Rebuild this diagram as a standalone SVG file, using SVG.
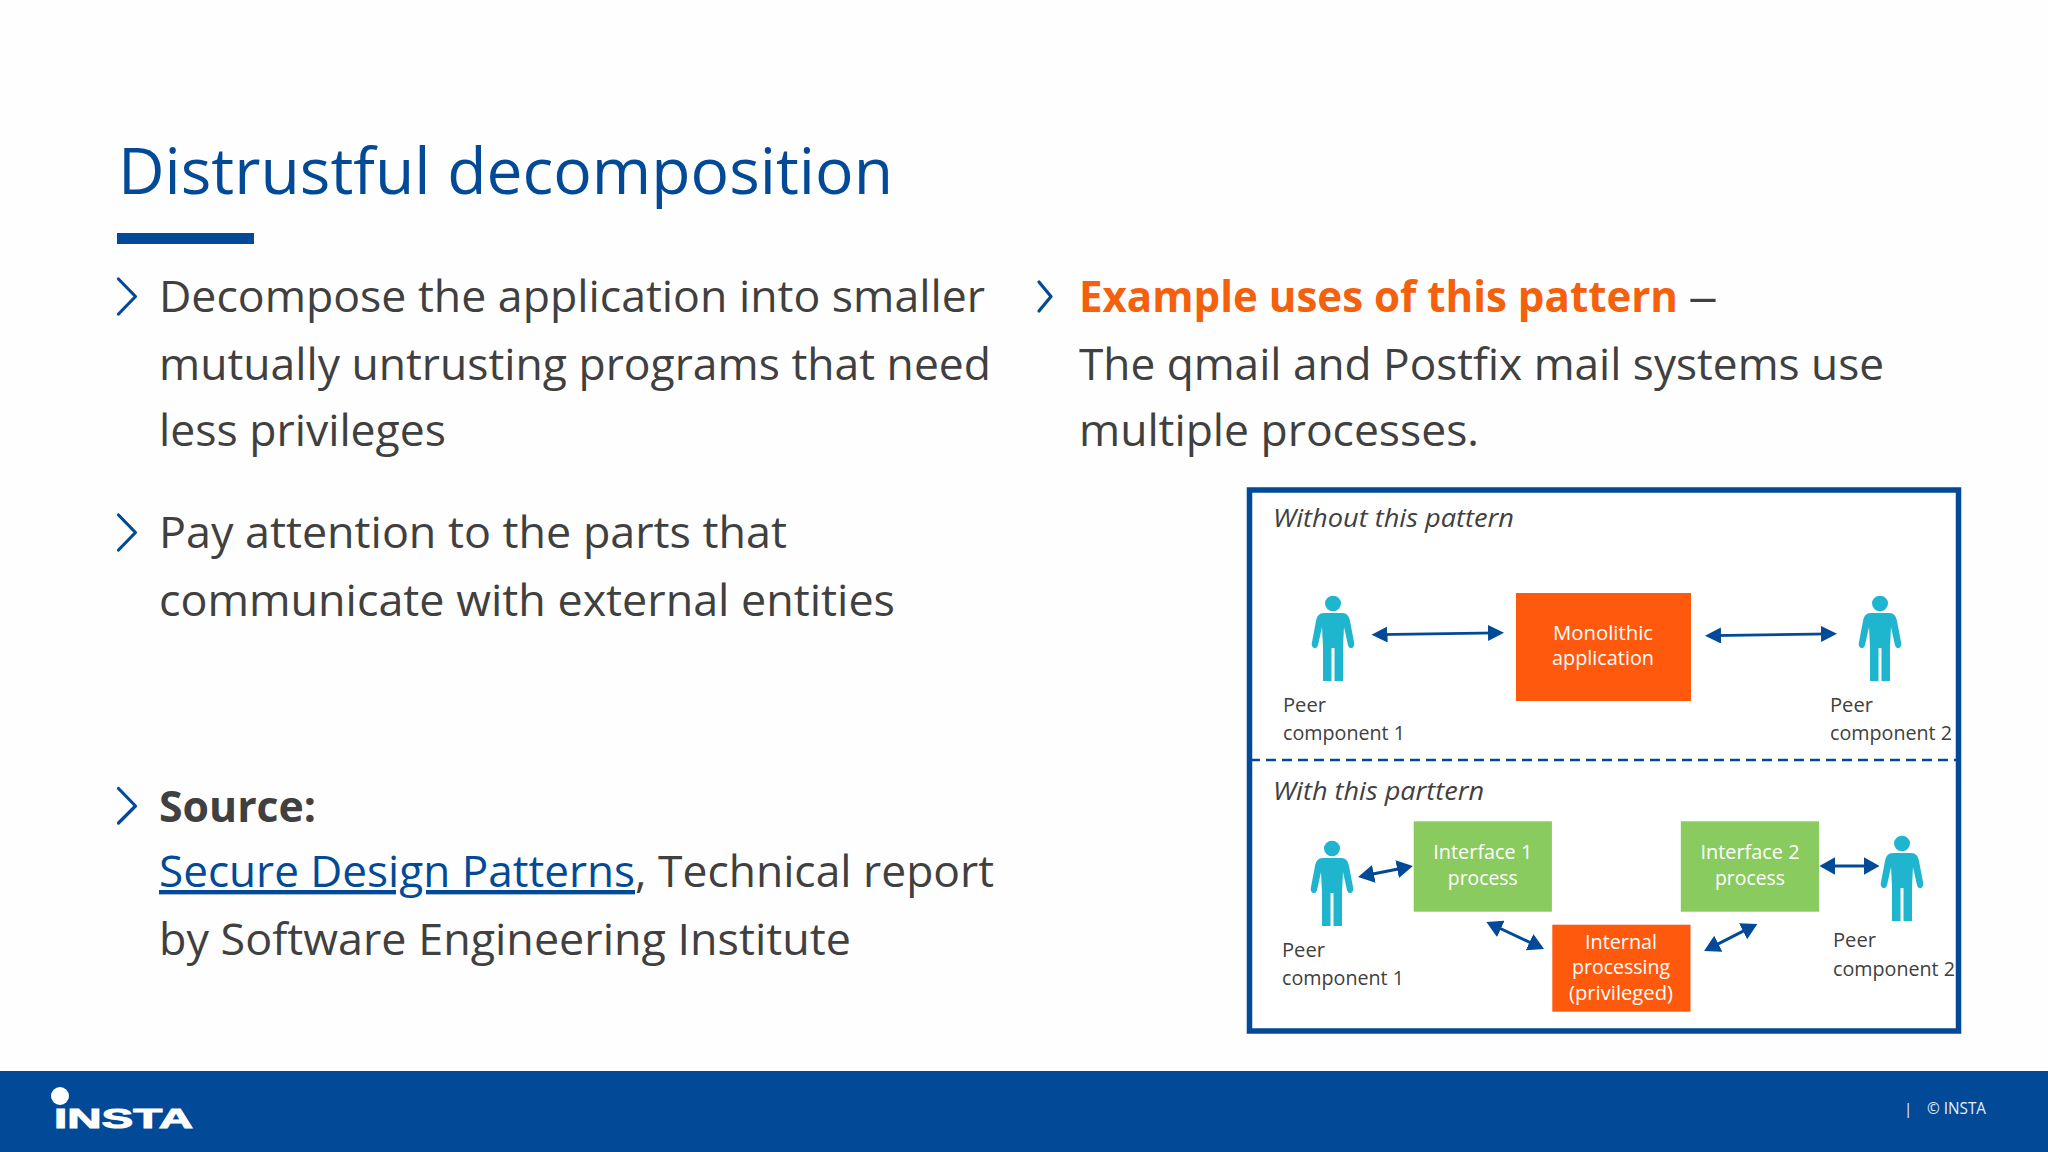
<svg xmlns="http://www.w3.org/2000/svg" width="2048" height="1152" viewBox="0 0 2048 1152">
<style>
text{font-family:"Open Sans","Noto Sans",sans-serif}
.t{font-size:63.5px;fill:#024a97}
.b{font-size:43.5px;fill:#404040}
.bold{font-weight:700}
.o{fill:#f4600c}
.lk{fill:#024a97;text-decoration:underline}
.h{font-size:25px;font-style:italic;fill:#404040}
.p{font-size:20px;fill:#404040}
.w{font-size:20.5px;fill:#fff;text-anchor:middle}
.ch{fill:none;stroke:#024a97;stroke-width:3.2;stroke-linecap:round;stroke-linejoin:round}
.ar{fill:none;stroke:#024a97;stroke-width:2.8;marker-start:url(#head);marker-end:url(#head)}
.ar2{fill:none;stroke:#024a97;stroke-width:3;marker-start:url(#head2);marker-end:url(#head2)}
.or{fill:#ff590d}
.gr{fill:#8acb5f}
.pf{fill:#1fb5cf}
</style>
<defs>
<marker id="head" markerUnits="userSpaceOnUse" viewBox="0 0 16 16" markerWidth="16" markerHeight="16" refX="10" refY="8" orient="auto-start-reverse"><path d="M0,0L16,8L0,16Z" fill="#024a97"/></marker>
<marker id="head2" markerUnits="userSpaceOnUse" viewBox="0 0 16 18" markerWidth="16" markerHeight="18" refX="10" refY="9" orient="auto-start-reverse"><path d="M0,0L16,9L0,18Z" fill="#024a97"/></marker>
<g id="person"><ellipse cx="0" cy="7.5" rx="8" ry="7.8"/><path d="M-9,17H9C14,17 16,20 17,25L21,46C22,50 20,52 18,52C16,52 15,50 14.5,47L11,31L10,51V85H1.5V52H-1.5V85H-10V51L-11,31L-14.5,47C-15,50 -16,52 -18,52C-20,52 -22,50 -21,46L-17,25C-16,20 -14,17 -9,17Z"/></g>
</defs>
<rect width="2048" height="1152" fill="#fefefe"/>
<g id="title">
<text class="t" x="118" y="194" textLength="775" lengthAdjust="spacingAndGlyphs">Distrustful decomposition</text>
<rect x="117" y="233" width="137" height="11" fill="#024a97"/>
</g>
<g id="left-bullets">
<path class="ch" d="M118.500,279L135.500,296.500L118.500,314"/>
<text class="b" x="159" y="312" textLength="826" lengthAdjust="spacingAndGlyphs">Decompose the application into smaller</text>
<text class="b" x="159" y="380" textLength="832" lengthAdjust="spacingAndGlyphs">mutually untrusting programs that need</text>
<text class="b" x="159" y="446" textLength="287" lengthAdjust="spacingAndGlyphs">less privileges</text>
<path class="ch" d="M118.500,515L135.500,532.500L118.500,550"/>
<text class="b" x="159" y="548" textLength="628" lengthAdjust="spacingAndGlyphs">Pay attention to the parts that</text>
<text class="b" x="159" y="616" textLength="736" lengthAdjust="spacingAndGlyphs">communicate with external entities</text>
<path class="ch" d="M118.500,788.500L135.500,806L118.500,823"/>
<text class="b bold" x="159" y="822" textLength="157" lengthAdjust="spacingAndGlyphs">Source:</text>
<text class="b lk" x="159" y="887" textLength="476" lengthAdjust="spacingAndGlyphs">Secure Design Patterns</text>
<text class="b" x="635" y="887" textLength="359" lengthAdjust="spacingAndGlyphs">, Technical report</text>
<text class="b" x="159" y="955" textLength="692" lengthAdjust="spacingAndGlyphs">by Software Engineering Institute</text>
</g>
<g id="right-bullet">
<path class="ch" d="M1039,282L1051,296.500L1039,311"/>
<text class="b bold o" x="1079" y="312" textLength="599" lengthAdjust="spacingAndGlyphs">Example uses of this pattern</text>
<text class="b" x="1688" y="312" textLength="30" lengthAdjust="spacingAndGlyphs">–</text>
<text class="b" x="1079" y="380" textLength="805" lengthAdjust="spacingAndGlyphs">The qmail and Postfix mail systems use</text>
<text class="b" x="1079" y="446" textLength="400" lengthAdjust="spacingAndGlyphs">multiple processes.</text>
</g>
<g id="frame">
<rect x="1249.5" y="490" width="709" height="541" fill="#fff" stroke="#024a97" stroke-width="5.5"/>
<path d="M1250,760H1956" fill="none" stroke="#024a97" stroke-width="2.5" stroke-dasharray="10 6"/>
<text class="h" x="1273" y="527" textLength="241" lengthAdjust="spacingAndGlyphs">Without this pattern</text>
<text class="h" x="1273" y="800" textLength="211" lengthAdjust="spacingAndGlyphs">With this parttern</text>
</g>
<g id="connectors">
<path class="ar" d="M1377.5,634.6L1498,632.8"/>
<path class="ar" d="M1711,635.6L1831,633.8"/>
<path class="ar2" d="M1364,875.8L1407,867.2"/>
<path class="ar2" d="M1825.4,866H1873.5"/>
<path class="ar2" d="M1491.8,924.5L1538.6,946.5"/>
<path class="ar2" d="M1709.4,948.3L1752,926.7"/>
</g>
<g id="peer-1-top"><use href="#person" class="pf" x="1333" y="596"/><text class="p" x="1283" y="711.500" textLength="43" lengthAdjust="spacingAndGlyphs">Peer</text><text class="p" x="1283" y="740" textLength="122" lengthAdjust="spacingAndGlyphs">component 1</text></g>
<g id="monolithic"><rect class="or" x="1516" y="593" width="175" height="108"/><text class="w" x="1603" y="640" textLength="100" lengthAdjust="spacingAndGlyphs">Monolithic</text><text class="w" x="1603" y="665" textLength="102" lengthAdjust="spacingAndGlyphs">application</text></g>
<g id="peer-2-top"><use href="#person" class="pf" x="1880" y="596"/><text class="p" x="1830" y="711.500" textLength="43" lengthAdjust="spacingAndGlyphs">Peer</text><text class="p" x="1830" y="740" textLength="122" lengthAdjust="spacingAndGlyphs">component 2</text></g>
<g id="peer-1-bottom"><use href="#person" class="pf" x="1332" y="841"/><text class="p" x="1282" y="956.500" textLength="43" lengthAdjust="spacingAndGlyphs">Peer</text><text class="p" x="1282" y="985" textLength="122" lengthAdjust="spacingAndGlyphs">component 1</text></g>
<g id="interface-1"><rect class="gr" x="1413.7" y="821.3" width="138.2" height="90.4"/><text class="w" x="1482.8" y="859" textLength="99" lengthAdjust="spacingAndGlyphs">Interface 1</text><text class="w" x="1482.8" y="885" textLength="70" lengthAdjust="spacingAndGlyphs">process</text></g>
<g id="interface-2"><rect class="gr" x="1680.8" y="821.3" width="138.2" height="90.4"/><text class="w" x="1750" y="859" textLength="99" lengthAdjust="spacingAndGlyphs">Interface 2</text><text class="w" x="1750" y="885" textLength="70" lengthAdjust="spacingAndGlyphs">process</text></g>
<g id="internal"><rect class="or" x="1552.3" y="924.7" width="138.2" height="87"/><text class="w" x="1621" y="949" textLength="72" lengthAdjust="spacingAndGlyphs">Internal</text><text class="w" x="1621" y="974" textLength="98" lengthAdjust="spacingAndGlyphs">processing</text><text class="w" x="1621" y="1000" textLength="104" lengthAdjust="spacingAndGlyphs">(privileged)</text></g>
<g id="peer-2-bottom"><use href="#person" class="pf" x="1902" y="836"/><text class="p" x="1833" y="946.500" textLength="43" lengthAdjust="spacingAndGlyphs">Peer</text><text class="p" x="1833" y="976" textLength="122" lengthAdjust="spacingAndGlyphs">component 2</text></g>
<g id="footer">
<rect y="1071" width="2048" height="81" fill="#024a97"/>
<circle cx="60" cy="1096" r="9" fill="#fff"/>
<text x="54" y="1128" font-size="28" font-weight="700" fill="#fff" stroke="#fff" stroke-width="1" style="font-family:'Liberation Sans',sans-serif" textLength="139" lengthAdjust="spacingAndGlyphs">INSTA</text>
<text x="1904" y="1114" font-size="15" fill="#e8f0f8">|</text>
<text x="1927" y="1114" font-size="15.500" fill="#e8f0f8" textLength="59" lengthAdjust="spacingAndGlyphs">© INSTA</text>
</g>
</svg>
